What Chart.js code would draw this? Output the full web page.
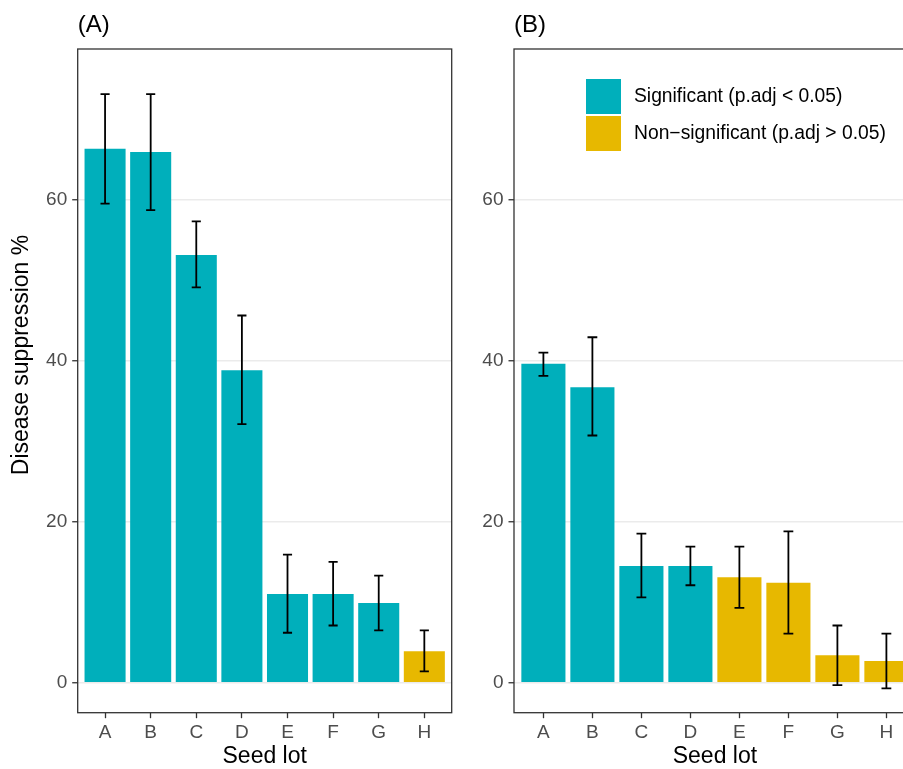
<!DOCTYPE html>
<html>
<head>
<meta charset="utf-8">
<script src="https://cdn.jsdelivr.net/npm/chart.js@4.4.0/dist/chart.umd.min.js"></script>
<style>
  html, body { margin: 0; padding: 0; background: #fff; overflow: hidden; }
  #wrap { position: relative; width: 903px; height: 769px; overflow: hidden; }
  canvas { position: absolute; top: 0; }
  #chartA { left: 0; }
  #chartB { left: 460px; }
</style>
</head>
<body>
<div id="wrap">
  <canvas id="chartA" width="460" height="769"></canvas>
  <canvas id="chartB" width="470" height="769"></canvas>
</div>
<script>
const seedLots = ["A", "B", "C", "D", "E", "F", "G", "H"]
const yTicks = [0, 20, 40, 60]

// panel A
const suppressionA = [66.3, 65.9, 53.1, 38.8, 11.0, 11.0, 9.9, 3.9]
const lowerA = [59.5, 58.7, 49.1, 32.1, 6.2, 7.1, 6.5, 1.4]
const upperA = [73.1, 73.1, 57.3, 45.6, 15.9, 15.0, 13.3, 6.5]
const significantA = [true, true, true, true, true, true, true, false]

// panel B
const suppressionB = [39.6, 36.7, 14.5, 14.5, 13.1, 12.4, 3.4, 2.7]
const lowerB = [38.1, 30.7, 10.6, 12.1, 9.3, 6.1, -0.3, -0.7]
const upperB = [41.0, 42.9, 18.5, 16.9, 16.9, 18.8, 7.1, 6.1]
const significantB = [true, true, true, true, false, false, false, false]

const legendLabels = ["Significant (p.adj < 0.05)", "Non\u2212significant (p.adj > 0.05)"]

const TEAL = "#00AFBB"
const GOLD = "#E7B800"
const FONT = '"Liberation Sans", Arial, Helvetica, sans-serif'

Chart.defaults.font.family = FONT

// error bars drawn on top of the bars, caps are 0.2 of a category wide
const errorBars = {
  id: "errorBars",
  afterDatasetsDraw(chart, args, opts) {
    const { ctx } = chart
    const x = chart.scales.x
    const y = chart.scales.y
    ctx.save()
    ctx.strokeStyle = "#000"
    ctx.lineWidth = 1.8
    ctx.lineCap = "butt"
    opts.lower.forEach((lo, i) => {
      const cx = x.getPixelForValue(i + 1)
      const half = x.getPixelForValue(i + 1.1) - cx
      const yLo = y.getPixelForValue(lo)
      const yHi = y.getPixelForValue(opts.upper[i])
      ctx.beginPath()
      ctx.moveTo(cx, yLo)
      ctx.lineTo(cx, yHi)
      ctx.moveTo(cx - half, yLo)
      ctx.lineTo(cx + half, yLo)
      ctx.moveTo(cx - half, yHi)
      ctx.lineTo(cx + half, yHi)
      ctx.stroke()
    })
    ctx.restore()
  },
}

// panel border, tag, y title and legend
const decorations = {
  id: "decorations",
  afterDraw(chart, args, opts) {
    const { ctx, chartArea: area } = chart
    ctx.save()
    ctx.strokeStyle = "#333333"
    ctx.lineWidth = 1.3
    ctx.strokeRect(area.left, area.top, area.right - area.left, area.bottom - area.top)

    ctx.fillStyle = "#000"
    ctx.font = "24px " + FONT
    ctx.textAlign = "left"
    ctx.textBaseline = "alphabetic"
    ctx.fillText(opts.tag, area.left, 31.5)

    if (opts.yTitle) {
      ctx.save()
      ctx.font = "23px " + FONT
      ctx.translate(27.5, 355)
      ctx.rotate(-Math.PI / 2)
      ctx.textAlign = "center"
      ctx.fillText(opts.yTitle, 0, 0)
      ctx.restore()
    }

    if (opts.legend) {
      const colors = [TEAL, GOLD]
      const bx = area.left + 72
      ctx.font = "19.3px " + FONT
      ctx.textBaseline = "middle"
      legendLabels.forEach((label, i) => {
        const by = 79 + i * 37
        ctx.fillStyle = colors[i]
        ctx.fillRect(bx, by, 35, 35)
        ctx.fillStyle = "#000"
        ctx.fillText(label, bx + 48, by + 18)
      })
    }
    ctx.restore()
  },
}

function makePanel(id, tag, values, lower, upper, significant, layout) {
  const ctx = document.getElementById(id).getContext("2d")
  return new Chart(ctx, {
    type: "bar",
    data: {
      datasets: [
        {
          data: values.map((v, i) => ({ x: i + 1, y: v })),
          backgroundColor: significant.map((s) => (s ? TEAL : GOLD)),
          borderWidth: 0,
          barPercentage: 0.9,
          categoryPercentage: 1.0,
        },
      ],
    },
    options: {
      responsive: false,
      animation: false,
      devicePixelRatio: 1,
      layout: {
        padding: { left: 0, right: layout.padRight, top: 49, bottom: 0 },
      },
      plugins: {
        legend: { display: false },
        tooltip: { enabled: false },
        errorBars: { lower: lower, upper: upper },
        decorations: { tag: tag, yTitle: layout.yTitle, legend: layout.legend },
      },
      scales: {
        x: {
          type: "linear",
          min: 0.4,
          max: seedLots.length + 0.6,
          offset: false,
          afterBuildTicks: (scale) => {
            scale.ticks = seedLots.map((_, i) => ({ value: i + 1 }))
          },
          afterFit: (scale) => {
            scale.height = 56.3
          },
          ticks: {
            callback: (v) => seedLots[Math.round(v) - 1],
            color: "#4D4D4D",
            font: { size: 19 },
            padding: 3,
            maxRotation: 0,
            autoSkip: false,
          },
          grid: {
            offset: false,
            drawOnChartArea: false,
            tickLength: 5.5,
            tickColor: "#333333",
            tickWidth: 1.3,
          },
          border: { display: false },
          title: {
            display: true,
            text: "Seed lot",
            color: "#000",
            font: { size: 23 },
            padding: { top: 0, bottom: -1 },
          },
        },
        y: {
          min: -3.73,
          max: 78.7,
          afterBuildTicks: (scale) => {
            scale.ticks = yTicks.map((v) => ({ value: v }))
          },
          afterFit: (scale) => {
            scale.width = layout.axisWidth
          },
          ticks: {
            color: "#4D4D4D",
            font: { size: 19 },
            padding: 5,
          },
          grid: {
            color: "#EBEBEB",
            lineWidth: 1.5,
            tickLength: 5.5,
            tickColor: "#333333",
            tickWidth: 1.3,
          },
          border: { display: false },
        },
      },
    },
    plugins: [errorBars, decorations],
  })
}

const chartA = makePanel("chartA", "(A)", suppressionA, lowerA, upperA, significantA, {
  axisWidth: 77.7,
  padRight: 8.3,
  yTitle: "Disease suppression %",
  legend: false,
})

const chartB = makePanel("chartB", "(B)", suppressionB, lowerB, upperB, significantB, {
  axisWidth: 54,
  padRight: 14.2,
  yTitle: null,
  legend: true,
})
</script>
</body>
</html>
